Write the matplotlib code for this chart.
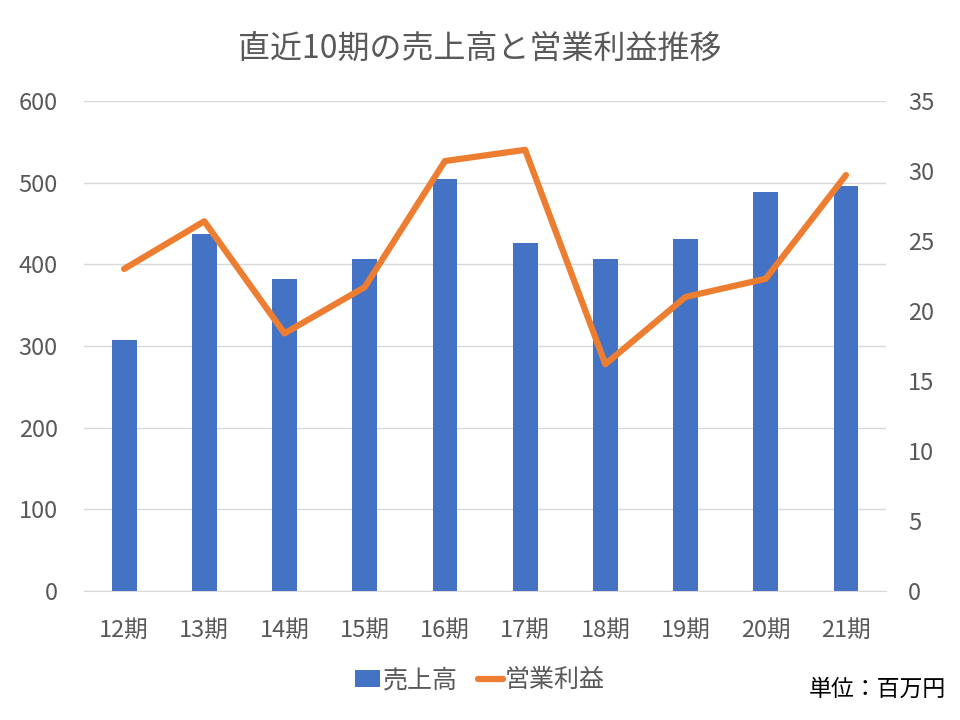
import matplotlib.pyplot as plt
import numpy as np

plt.rcParams['font.family'] = ['Noto Sans CJK JP', 'DejaVu Sans']

# data
periods = ['12期', '13期', '14期', '15期', '16期', '17期', '18期', '19期', '20期', '21期']
sales = [307, 437, 382, 406, 504, 426, 406, 431, 489, 496]
profit = [23.0, 26.4, 18.4, 21.7, 30.7, 31.5, 16.2, 21.0, 22.3, 29.7]

text_color = '#595959'
x = np.arange(len(periods))

fig = plt.figure(figsize=(9.6, 7.2), dpi=100)
ax = fig.add_axes([0.0875, 0.179, 0.8355, 0.681])
ax2 = ax.twinx()

bars = ax.bar(x, sales, width=0.31, color='#4472C4', label='売上高', zorder=2)
line, = ax2.plot(x, profit, color='#ED7D31', linewidth=4.5, label='営業利益',
                 solid_joinstyle='round', solid_capstyle='round', zorder=3)

ax.set_xlim(-0.5, len(periods) - 0.5)
ax.set_ylim(0, 600)
ax.set_yticks(range(0, 601, 100))
ax2.set_ylim(0, 35)
ax2.set_yticks(range(0, 36, 5))
ax.set_xticks(x)
ax.set_xticklabels(periods)

ax.grid(axis='y', color='#D9D9D9', linewidth=1, zorder=0)
ax.set_axisbelow(True)
for a in (ax, ax2):
    for s in a.spines.values():
        s.set_visible(False)
    a.tick_params(length=0, labelsize=17, colors=text_color)
ax.spines['bottom'].set_visible(True)
ax.spines['bottom'].set_color('#D9D9D9')
ax.tick_params(axis='x', pad=20)
ax.tick_params(axis='y', pad=19)
ax2.tick_params(axis='y', pad=16)

fig.text(0.5, 0.933, '直近10期の売上高と営業利益推移', ha='center', va='center',
         fontsize=23, color=text_color)

fig.legend(handles=[bars, line], loc='center', bbox_to_anchor=(0.5, 0.055),
           ncol=2, frameon=False, fontsize=18, labelcolor=text_color,
           handlelength=1.0, handletextpad=0.1, columnspacing=0.8)

fig.text(0.985, 0.043, '単位：百万円', ha='right', va='center', fontsize=16.5, color='black')

fig.savefig('out.png', dpi=100)
